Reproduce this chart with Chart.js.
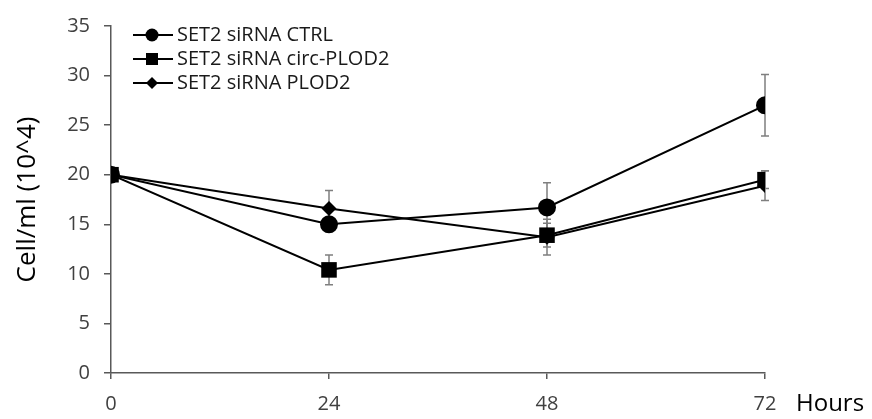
<!DOCTYPE html>
<html>
<head>
<meta charset="utf-8">
<script src="https://cdn.jsdelivr.net/npm/chart.js@4/dist/chart.umd.min.js"></script>
<style>
  html, body { margin: 0; padding: 0; background: #fff; }
  #wrap { width: 872px; height: 419px; }
</style>
</head>
<body>
<div id="wrap"><canvas id="c" width="872" height="419"></canvas></div>
<script>
// ---- data ----
const hours = [0, 24, 48, 72];
const seriesLabels = ['SET2 siRNA CTRL', 'SET2 siRNA circ-PLOD2', 'SET2 siRNA PLOD2'];
const ctrl = [20, 15.0, 16.7, 27.0];
const ctrlErr = [0, 0.5, 2.5, 3.1];
const circ = [20, 10.4, 13.9, 19.5];
const circErr = [0, 1.5, 1.2, 0.9];
const plod2 = [20, 16.6, 13.7, 18.9];
const plod2Err = [0, 1.8, 1.8, 1.5];
const yTicks = [0, 5, 10, 15, 20, 25, 30, 35];
const xTicks = [0, 24, 48, 72];
const yTitle = 'Cell/ml (10^4)';
const xTitle = 'Hours';

const FONT = "'Open Sans', 'Liberation Sans', sans-serif";
const AXIS = '#595959';
const ERR = '#7f7f7f';

const seriesValues = [ctrl, circ, plod2];
const seriesErrors = [ctrlErr, circErr, plod2Err];
const pointStyles = ['circle', 'rect', 'rectRot'];
const pointRadii = [9, 11, 7.5];
const legendRadii = [6.5, 8.5, 6];

const errorBarPlugin = {
  id: 'errorBars',
  beforeDatasetsDraw(chart) {
    const { ctx, scales: { x, y } } = chart;
    ctx.save();
    ctx.strokeStyle = ERR;
    ctx.lineWidth = 1.5;
    seriesValues.forEach((vals, si) => {
      vals.forEach((v, i) => {
        const e = seriesErrors[si][i];
        if (!e) return;
        const px = x.getPixelForValue(hours[i]);
        const top = y.getPixelForValue(v + e);
        const bot = y.getPixelForValue(v - e);
        ctx.beginPath();
        ctx.moveTo(px, top); ctx.lineTo(px, bot);
        ctx.moveTo(px - 4, top); ctx.lineTo(px + 4, top);
        ctx.moveTo(px - 4, bot); ctx.lineTo(px + 4, bot);
        ctx.stroke();
      });
    });
    ctx.restore();
  }
};

const legendPlugin = {
  id: 'customLegend',
  afterDraw(chart) {
    const { ctx } = chart;
    ctx.save();
    const x0 = 133, x1 = 173, xm = 152, tx = 177;
    const rows = [35, 59, 83];
    seriesLabels.forEach((lab, i) => {
      const yy = rows[i];
      ctx.strokeStyle = '#000';
      ctx.lineWidth = 2;
      ctx.beginPath(); ctx.moveTo(x0, yy); ctx.lineTo(x1, yy); ctx.stroke();
      ctx.fillStyle = '#000';
      ctx.beginPath();
      const r = legendRadii[i];
      if (pointStyles[i] === 'circle') { ctx.arc(xm, yy, r, 0, Math.PI * 2); }
      else if (pointStyles[i] === 'rect') { const h = r * Math.SQRT1_2; ctx.rect(xm - h, yy - h, 2 * h, 2 * h); }
      else { ctx.moveTo(xm - r, yy); ctx.lineTo(xm, yy - r); ctx.lineTo(xm + r, yy); ctx.lineTo(xm, yy + r); ctx.closePath(); }
      ctx.fill();
      ctx.fillStyle = '#1a1a1a';
      ctx.font = '20px ' + FONT;
      ctx.textBaseline = 'middle';
      ctx.textAlign = 'left';
      ctx.fillText(lab, tx, yy);
    });
    // x-axis title at right end
    ctx.fillStyle = '#000';
    ctx.font = '24px ' + FONT;
    ctx.textBaseline = 'middle';
    ctx.textAlign = 'left';
    ctx.fillText(xTitle, 796, 404);
    ctx.restore();
  }
};

new Chart(document.getElementById('c'), {
  type: 'line',
  data: {
    datasets: seriesLabels.map((lab, si) => ({
      label: lab,
      data: hours.map((h, i) => ({ x: h, y: seriesValues[si][i] })),
      borderColor: '#000',
      backgroundColor: '#000',
      borderWidth: 2,
      pointStyle: pointStyles[si],
      pointRadius: pointRadii[si],
      pointBorderWidth: 0,
      pointBackgroundColor: '#000',
      tension: 0,
      fill: false
    }))
  },
  options: {
    responsive: false,
    animation: false,
    events: [],
    layout: { padding: { top: 25, right: 107, left: 0, bottom: 0 } },
    plugins: { legend: { display: false }, tooltip: { enabled: false } },
    scales: {
      x: {
        type: 'linear', min: 0, max: 72,
        afterBuildTicks(s) { s.ticks = xTicks.map(v => ({ value: v })); },
        ticks: { color: '#404040', font: { family: FONT, size: 20 }, padding: 13, maxRotation: 0 },
        grid: { drawOnChartArea: false, tickLength: 6, color: AXIS, lineWidth: 1.5 },
        border: { color: AXIS, width: 1.5 },
        afterFit(s) { s.height = 46; }
      },
      y: {
        type: 'linear', min: 0, max: 35,
        afterBuildTicks(s) { s.ticks = yTicks.map(v => ({ value: v })); },
        ticks: { color: '#404040', font: { family: FONT, size: 20 }, padding: 14 },
        grid: { drawOnChartArea: false, tickLength: 7, color: AXIS, lineWidth: 1.5 },
        border: { color: AXIS, width: 1.5 },
        title: { display: true, text: yTitle, color: '#000', font: { family: FONT, size: 26 }, padding: { top: 12, bottom: 0 } },
        afterFit(s) { s.width = 111; }
      }
    }
  },
  plugins: [errorBarPlugin, legendPlugin]
});
</script>
</body>
</html>
